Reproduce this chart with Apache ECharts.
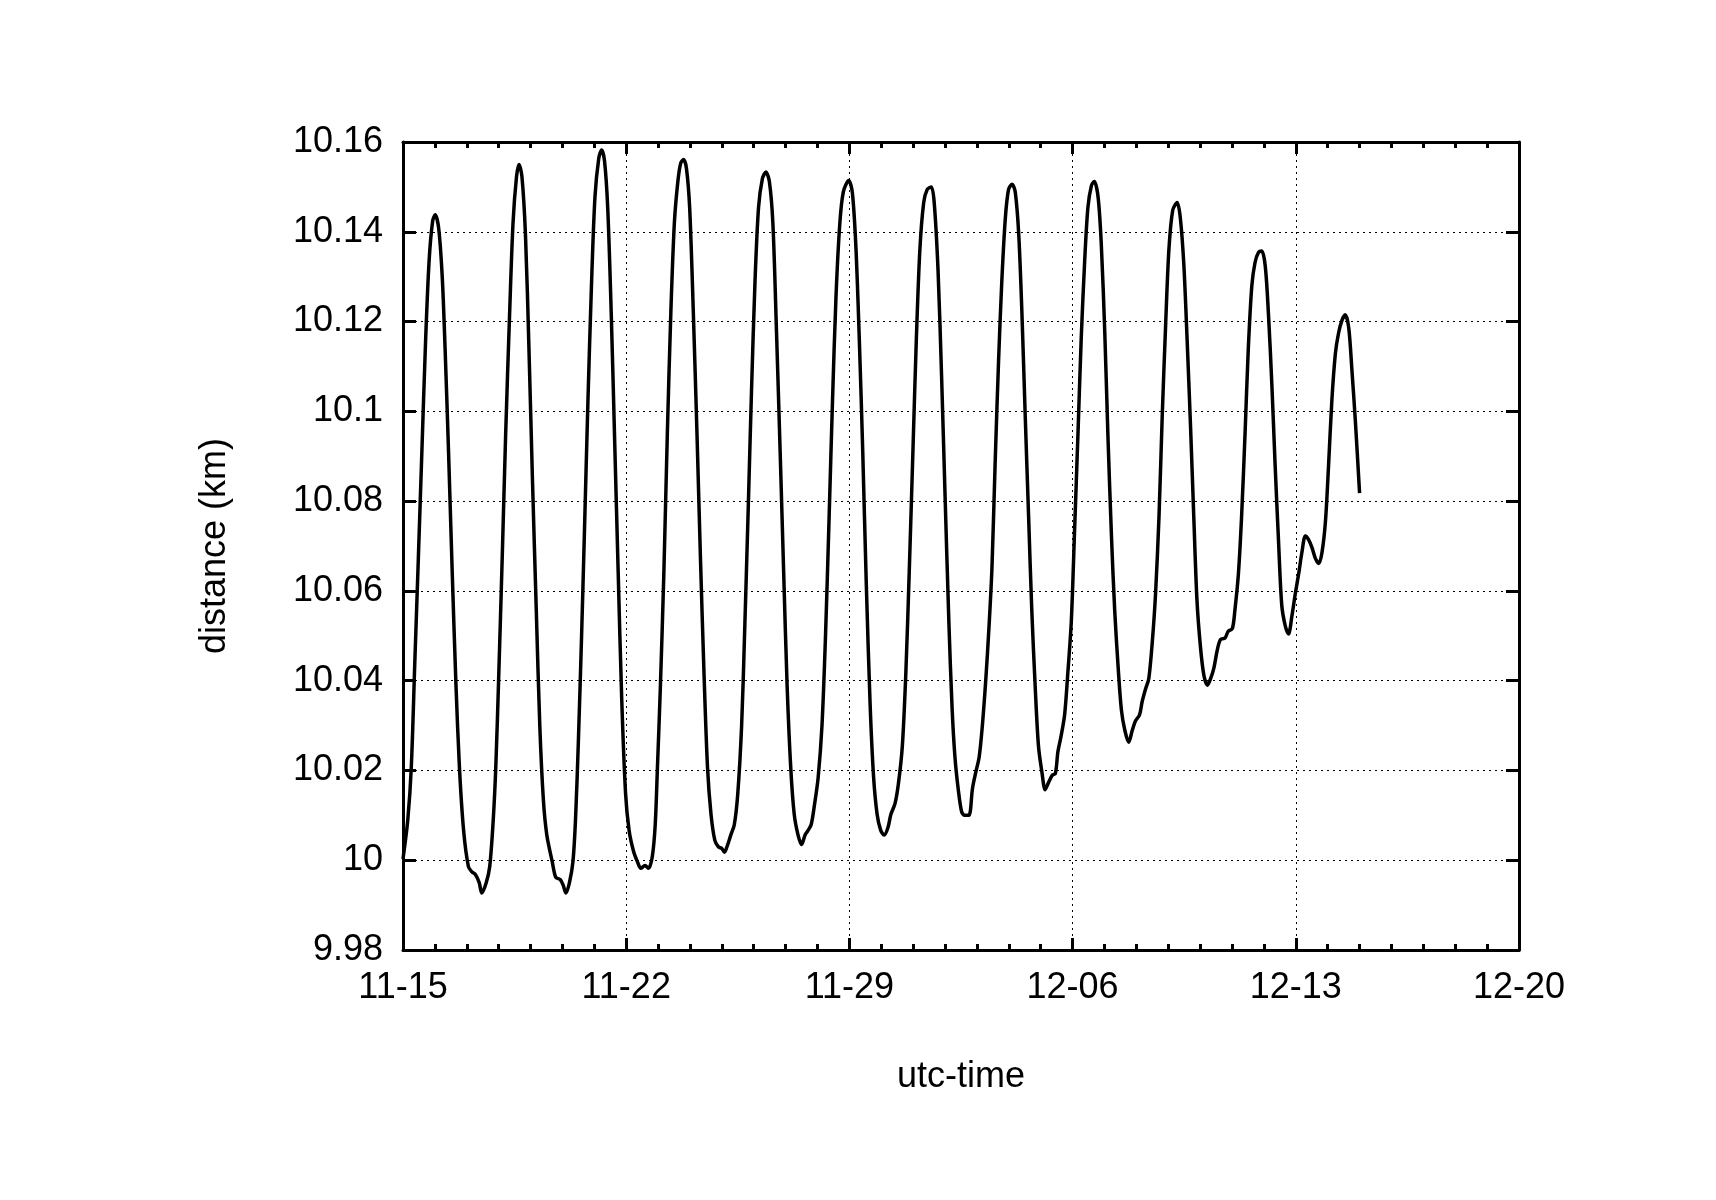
<!DOCTYPE html>
<html>
<head>
<meta charset="utf-8">
<script src="https://cdn.jsdelivr.net/npm/echarts@6/dist/echarts.min.js"></script>
<style>
html,body{margin:0;padding:0;background:#fff;}
#chart{width:1716px;height:1200px;}
</style>
</head>
<body>
<div id="chart"></div>
<script>
// x tick labels (every 7 days starting 11-15)
const xTickLabels = ['11-15', '11-22', '11-29', '12-06', '12-13', '12-20'];
// days since 11-15 00:00 UTC
const days = [
 0.00,0.15,0.26,0.37,0.48,0.59,0.71,0.82,0.93,1.01,1.12,1.23,1.32,1.43,1.54,1.66,1.77,1.90,2.05,2.16,2.27,2.39,2.47,2.61,2.72,2.83,2.91,
 3.00,3.11,3.22,3.34,3.45,3.56,3.64,3.73,3.84,3.95,4.06,4.18,4.29,4.40,4.51,4.68,4.79,4.93,5.02,5.11,5.22,5.33,5.41,5.50,5.60,5.69,5.80,5.91,
 6.02,6.14,6.23,6.32,6.42,6.53,6.64,6.75,6.86,6.98,7.09,7.23,7.35,7.46,7.59,7.70,7.82,7.91,7.98,8.07,8.18,8.29,8.40,8.51,8.62,8.71,8.80,8.89,
 8.99,9.10,9.22,9.33,9.44,9.55,9.66,9.78,9.89,10.00,10.08,10.17,10.28,10.39,10.50,10.62,10.71,10.82,10.93,11.04,11.15,11.27,11.38,11.49,11.60,
 11.71,11.83,11.94,12.05,12.16,12.27,12.39,12.50,12.61,12.69,12.80,12.91,13.02,13.14,13.25,13.36,13.47,13.58,13.70,13.81,13.98,14.09,14.20,
 14.31,14.42,14.53,14.65,14.76,14.87,14.98,15.09,15.21,15.30,15.43,15.54,15.66,15.77,15.88,15.99,16.10,16.21,16.33,16.44,16.57,16.66,16.78,
 16.89,17.00,17.12,17.22,17.31,17.41,17.52,17.62,17.75,17.86,17.96,18.07,18.17,18.28,18.38,18.47,18.57,18.68,18.78,18.89,18.99,19.10,19.20,
 19.31,19.41,19.51,19.62,19.72,19.83,19.93,20.04,20.14,20.25,20.37,20.46,20.54,20.64,20.75,20.85,20.96,21.06,21.17,21.27,21.38,21.48,21.59,
 21.68,21.80,21.90,22.01,22.11,22.22,22.32,22.43,22.53,22.64,22.76,22.87,22.97,23.10,23.18,23.29,23.39,23.50,23.60,23.71,23.81,23.92,24.02,
 24.14,24.28,24.38,24.49,24.59,24.70,24.80,24.90,25.01,25.12,25.23,25.33,25.43,25.54,25.64,25.78,25.88,26.01,26.09,26.20,26.30,26.41,26.51,
 26.62,26.72,26.83,26.93,27.04,27.14,27.25,27.35,27.46,27.56,27.67,27.77,27.88,27.98,28.09,28.19,28.30,28.40,28.51,28.61,28.72,28.82,28.93,
 29.03,29.13,29.24,29.34,29.45,29.55,29.66,29.76,29.87,30.00
];
// distance in km
const distance = [
 10.0003,10.009,10.0207,10.044,10.067,10.0906,10.116,10.1337,10.1424,10.1438,10.1407,10.130,10.114,10.0906,10.065,10.0393,10.0207,10.0067,9.9986,9.9974,9.9968,9.995,9.9927,9.995,9.9986,10.009,10.0207,
 10.0405,10.067,10.095,10.121,10.1419,10.1523,10.155,10.1523,10.1395,10.114,10.0848,10.0557,10.030,10.0137,10.0056,9.9997,9.9962,9.9957,9.9945,9.9927,9.995,9.9997,10.009,10.0265,10.0498,10.0731,10.1023,10.1279,
 10.1477,10.1564,10.1582,10.1558,10.1454,10.122,10.093,10.0638,10.0358,10.0149,10.0067,10.002,9.9997,9.9982,9.9988,9.9982,10.0009,10.0079,10.0207,10.0382,10.0638,10.095,10.122,10.1419,10.1512,10.1553,10.1561,10.1541,
 10.1454,10.1232,10.095,10.067,10.0417,10.0207,10.0102,10.0044,10.003,10.0026,10.0018,10.0032,10.0056,10.0079,10.0149,10.030,10.0498,10.0766,10.1046,10.129,10.1454,10.1518,10.1533,10.1512,10.1419,
 10.1186,10.0906,10.0638,10.0382,10.0207,10.0102,10.0056,10.0035,10.0056,10.0065,10.0079,10.0126,10.0184,10.030,10.0498,10.0755,10.1023,10.1256,10.1419,10.1489,10.1514,10.1489,10.1372,
 10.1162,10.0906,10.0615,10.0347,10.0184,10.0102,10.0067,10.0056,10.0073,10.0102,10.0126,10.0172,10.0254,10.0417,10.065,10.0906,10.1162,10.136,10.1465,10.1494,10.150,10.1465,10.1314,
 10.1081,10.0813,10.0530,10.0340,10.0230,10.0160,10.0108,10.010,10.010,10.016,10.0195,10.023,10.030,10.0405,10.0522,10.065,10.0883,10.1116,10.129,10.143,10.1494,10.1506,10.1489,
 10.1395,10.122,10.0999,10.0766,10.0557,10.0382,10.0254,10.0195,10.0157,10.0174,10.019,10.0193,10.0242,10.0277,10.0324,10.0417,10.0533,10.0731,10.0953,10.1162,10.1337,10.1454,10.1503,
 10.1512,10.1477,10.1372,10.1174,10.0941,10.072,10.0557,10.0428,10.0335,10.0289,10.0263,10.0289,10.031,10.0324,10.0353,10.0382,10.0405,10.0487,10.0592,10.0766,10.0988,10.1197,10.136,
 10.1448,10.1465,10.143,10.1325,10.1162,10.0964,10.0766,10.058,10.0475,10.0411,10.039,10.0405,10.0428,10.0469,10.0492,10.0495,10.051,10.0516,10.0557,10.0638,10.0766,10.0953,10.1139,
 10.1279,10.1331,10.1354,10.1357,10.1325,10.122,10.1058,10.0883,10.0708,10.0568,10.0522,10.0504,10.0545,10.0592,10.0638,10.0685,10.0722,10.0714,10.0696,10.0673,10.0661,10.0685,10.0755,
 10.0883,10.1023,10.1128,10.1174,10.1203,10.1215,10.1186,10.1092,10.0976,10.0818
];
const yMin = 9.98, yMax = 10.16, yStep = 0.02;
const xMin = 0, xMax = 35, xStep = 7;

const seriesData = days.map((d, i) => [d, distance[i]]);
const FONT = 'Liberation Sans, Arial, Helvetica, sans-serif';
const FS = 36;
const grid = {left: 403, right: 197, top: 142, bottom: 250};
const axisLine = {show: true, onZero: false, lineStyle: {color: '#000', width: 3}};
const splitLine = {show: true, lineStyle: {color: '#000', width: 1, type: [2, 4]}};

const chart = echarts.init(document.getElementById('chart'), null, {renderer: 'canvas'});
chart.setOption({
  animation: false,
  backgroundColor: '#fff',
  grid: grid,
  xAxis: [{
    type: 'value', position: 'bottom', min: xMin, max: xMax, interval: xStep,
    name: 'utc-time', nameLocation: 'middle', nameGap: 109,
    nameTextStyle: {fontFamily: FONT, fontSize: FS, color: '#000'},
    axisLine: axisLine,
    axisTick: {show: true, inside: true, length: 12, lineStyle: {color: '#000', width: 3}},
    minorTick: {show: true, splitNumber: 7, length: 6, lineStyle: {color: '#000', width: 3}},
    axisLabel: {fontFamily: FONT, fontSize: FS, color: '#000', margin: 20,
      formatter: v => xTickLabels[Math.round(v / xStep)]},
    splitLine: splitLine
  }, {
    type: 'value', position: 'top', min: xMin, max: xMax, interval: xStep,
    axisLine: axisLine,
    axisTick: {show: true, inside: true, length: 12, lineStyle: {color: '#000', width: 3}},
    minorTick: {show: true, splitNumber: 7, length: 6, lineStyle: {color: '#000', width: 3}},
    axisLabel: {show: false}, splitLine: {show: false}
  }],
  yAxis: [{
    type: 'value', position: 'left', min: yMin, max: yMax, interval: yStep,
    name: 'distance (km)', nameLocation: 'middle', nameGap: 170, nameRotate: 90,
    nameTextStyle: {fontFamily: FONT, fontSize: FS, color: '#000'},
    axisLine: axisLine,
    axisTick: {show: true, inside: true, length: 13, lineStyle: {color: '#000', width: 3}},
    axisLabel: {fontFamily: FONT, fontSize: FS, color: '#000', margin: 20,
      formatter: v => String(parseFloat(v.toFixed(2)))},
    splitLine: splitLine
  }, {
    type: 'value', position: 'right', min: yMin, max: yMax, interval: yStep,
    axisLine: axisLine,
    axisTick: {show: true, inside: true, length: 13, lineStyle: {color: '#000', width: 3}},
    axisLabel: {show: false}, splitLine: {show: false}
  }],
  series: [{
    type: 'line', xAxisIndex: 0, yAxisIndex: 0,
    data: seriesData, showSymbol: false, symbol: 'none', smooth: 0.3,
    lineStyle: {color: '#000', width: 3.5}, z: 5
  }]
});
</script>
</body>
</html>
